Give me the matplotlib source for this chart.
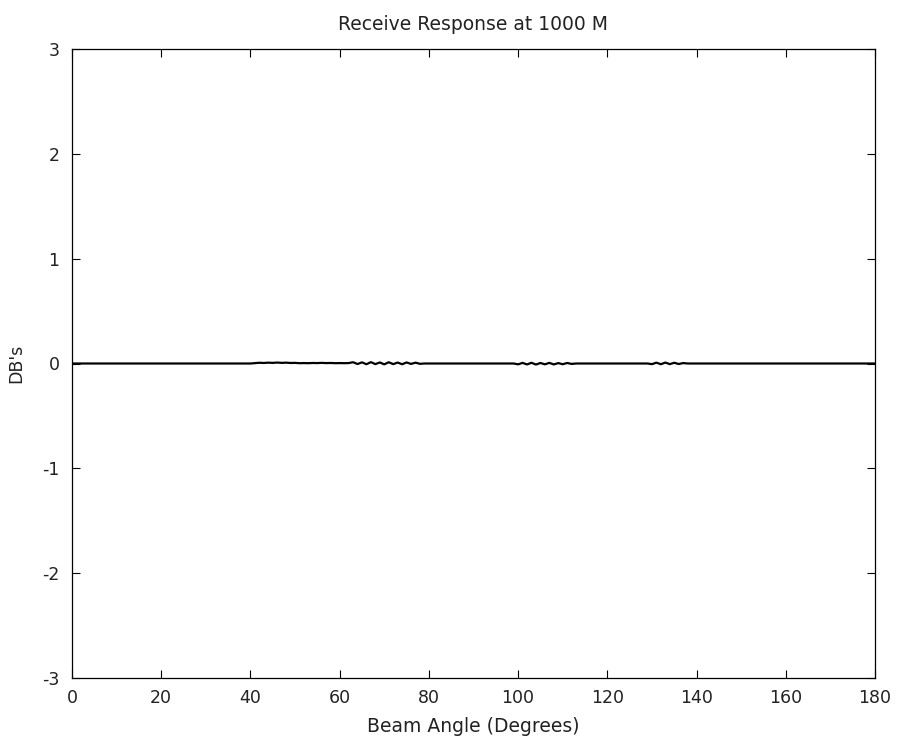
import matplotlib
matplotlib.use("Agg")
import matplotlib.pyplot as plt
from matplotlib.ticker import MultipleLocator

plt.rcParams['font.family'] = ['DejaVu Sans']
plt.rcParams['axes.unicode_minus'] = False

# Beam angle (degrees), one sample per degree
angles = list(range(0, 181))

# Receive response (dB) per degree
db_0_40 = [0.0] * 41
db_41_62 = [0.004, 0.007, 0.005, 0.008, 0.006, 0.009, 0.006, 0.008, 0.005, 0.006,
            0.003, 0.004, 0.003, 0.005, 0.004, 0.006, 0.004, 0.005, 0.003, 0.004,
            0.003, 0.004]
db_63_78 = [0.012, -0.005, 0.011, -0.007, 0.013, -0.006, 0.010, -0.008, 0.012,
            -0.006, 0.009, -0.007, 0.010, -0.004, 0.008, -0.003]
db_79_99 = [0.0] * 21
db_100_112 = [-0.008, 0.006, -0.009, 0.007, -0.010, 0.005, -0.008, 0.006,
              -0.009, 0.004, -0.007, 0.005, -0.004]
db_113_129 = [0.0] * 17
db_130_137 = [-0.006, 0.008, -0.007, 0.009, -0.006, 0.007, -0.005, 0.004]
db_138_180 = [0.0] * 43
db = db_0_40 + db_41_62 + db_63_78 + db_79_99 + db_100_112 + db_113_129 + db_130_137 + db_138_180

title = "Receive Response at 1000 M"
xlabel = "Beam Angle (Degrees)"
ylabel = "DB's"

fig = plt.figure(figsize=(9, 7.44), dpi=100)
ax = fig.add_axes([72 / 900, 1 - 678 / 744, (875 - 72) / 900, (678 - 49) / 744])

ax.plot(angles, db, color='black', linewidth=1.6)

ax.set_xlim(0, 180)
ax.set_ylim(-3, 3)
ax.xaxis.set_major_locator(MultipleLocator(20))
ax.yaxis.set_major_locator(MultipleLocator(1))
ax.tick_params(direction='in', length=6, width=0.8, top=True, right=True,
               labelsize=12.5, pad=8, labelcolor='#222222')
ax.tick_params(axis='y', pad=9)
for s in ax.spines.values():
    s.set_linewidth(0.9)

ax.set_title(title, fontsize=13.5, pad=14, color='#222222')
ax.set_xlabel(xlabel, fontsize=13.5, labelpad=7, color='#222222')
ax.set_ylabel(ylabel, fontsize=12.5, labelpad=12, color='#222222')

fig.savefig("out.png", dpi=100)
